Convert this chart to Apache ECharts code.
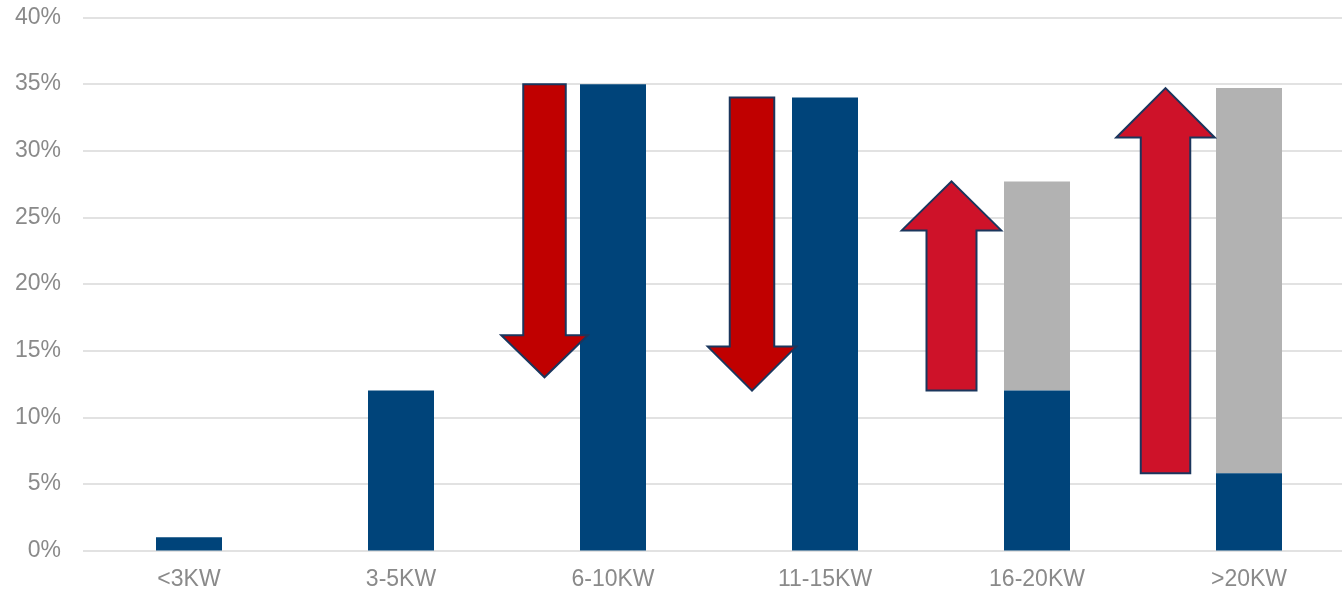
<!DOCTYPE html>
<html>
<head>
<meta charset="utf-8">
<script src="https://cdn.jsdelivr.net/npm/echarts@6/dist/echarts.min.js"></script>
<style>
  html, body { margin: 0; padding: 0; background: #ffffff; overflow: hidden; }
  #chart { width: 1355px; height: 592px; }
</style>
</head>
<body>
<div id="chart"></div>
<script>
// Power classes on the category axis
const categories = ['<3KW', '3-5KW', '6-10KW', '11-15KW', '16-20KW', '>20KW'];
// Current share per class (%)
const baseShare = [1, 12, 35, 34, 12, 5.8];
// Additional share stacked on top (%)
const addedShare = [null, null, null, null, 15.7, 28.9];
// Y axis ticks
const yMin = 0, yMax = 40, yStep = 5;

// Shift arrows: class, start value, end value (%)
const arrowCategory = ['6-10KW', '11-15KW', '16-20KW', '>20KW'];
const arrowFrom = [35, 34, 12, 5.8];
const arrowTo = [13, 12, 27.7, 34.7];

// Arrow drawing style (pixels relative to the class centre)
const arrowStyle = [
  { offset: -68.5, shaft: 42.5, headW: 86.5, head: 42, fill: '#C00000' },
  { offset: -73,   shaft: 44.5, headW: 88.5, head: 44, fill: '#C00000' },
  { offset: -85.5, shaft: 50,   headW: 99.5, head: 49, fill: '#CE1229' },
  { offset: -83.5, shaft: 49.5, headW: 98.5, head: 49.5, fill: '#CE1229' }
];

const arrowData = arrowCategory.map((c, i) => [categories.indexOf(c), arrowFrom[i], arrowTo[i]]);

const labelColor = '#8a8a8a';
const fontFamily = '"Liberation Sans", Arial, sans-serif';

const chart = echarts.init(document.getElementById('chart'), null, { renderer: 'canvas' });

chart.setOption({
  backgroundColor: '#ffffff',
  animation: false,
  grid: { left: 83, right: 0, top: 17.5, bottom: 41.5, containLabel: false },
  xAxis: {
    type: 'category',
    data: categories,
    axisLine: { show: false },
    axisTick: { show: false },
    axisLabel: { color: labelColor, fontSize: 23, fontFamily: fontFamily, margin: 18 }
  },
  yAxis: {
    type: 'value',
    min: yMin,
    max: yMax,
    interval: yStep,
    axisLine: { show: false },
    axisTick: { show: false },
    axisLabel: { color: labelColor, fontSize: 23, fontFamily: fontFamily, margin: 22, formatter: '{value}%' },
    splitLine: { show: true, lineStyle: { color: '#e2e2e2', width: 2 } }
  },
  series: [
    {
      name: 'base',
      type: 'bar',
      stack: 'share',
      barWidth: 66,
      z: 3,
      data: baseShare,
      itemStyle: { color: '#00447A' }
    },
    {
      name: 'added',
      type: 'bar',
      stack: 'share',
      barWidth: 66,
      z: 2,
      data: addedShare,
      itemStyle: { color: '#B2B2B2', borderColor: '#B2B2B2', borderWidth: 2.5 }
    },
    {
      name: 'shift',
      type: 'custom',
      z: 5,
      encode: { x: 0, y: [1, 2] },
      data: arrowData,
      renderItem: function (params, api) {
        const i = params.dataIndex;
        const cat = api.value(0);
        const p0 = api.coord([cat, api.value(1)]);
        const p1 = api.coord([cat, api.value(2)]);
        const st = arrowStyle[i];
        const cx = p0[0] + st.offset;
        const y0 = p0[1], y1 = p1[1];
        const dir = y1 > y0 ? 1 : -1;
        const yb = y1 - dir * st.head;
        const s = st.shaft / 2, h = st.headW / 2;
        return {
          type: 'polygon',
          shape: {
            points: [
              [cx - s, y0], [cx + s, y0], [cx + s, yb], [cx + h, yb],
              [cx, y1], [cx - h, yb], [cx - s, yb]
            ]
          },
          style: { fill: st.fill, stroke: '#1B365D', lineWidth: 2, lineJoin: 'miter' }
        };
      }
    }
  ]
});
</script>
</body>
</html>
